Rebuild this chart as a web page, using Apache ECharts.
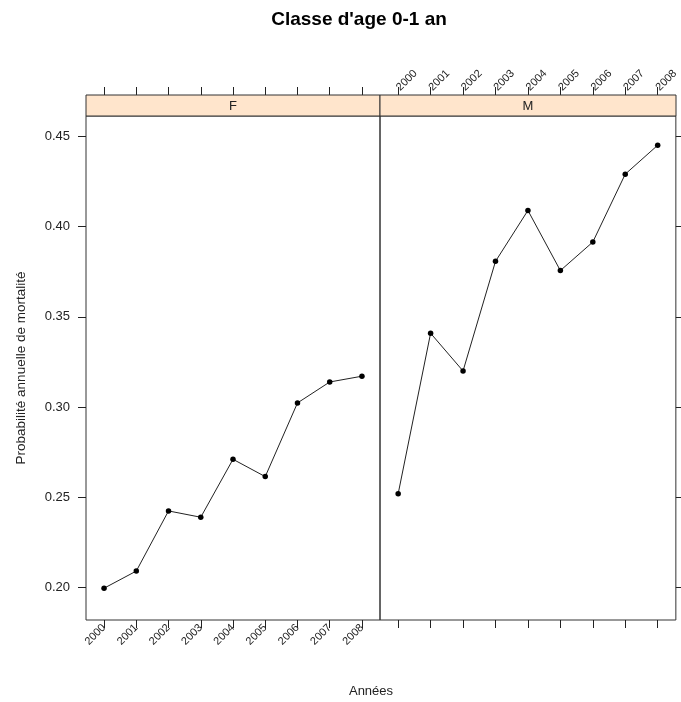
<!DOCTYPE html>
<html>
<head>
<meta charset="utf-8">
<script src="https://cdn.jsdelivr.net/npm/echarts@6/dist/echarts.min.js"></script>
<style>
  html,body{margin:0;padding:0;background:#fff;}
  #chart{width:681px;height:702px;}
</style>
</head>
<body>
<div id="chart"></div>
<script>
// data
const years = [2000, 2001, 2002, 2003, 2004, 2005, 2006, 2007, 2008];
const valuesF = [0.1997, 0.2092, 0.2425, 0.2390, 0.2711, 0.2615, 0.3023, 0.3139, 0.3171];
const valuesM = [0.2520, 0.3409, 0.3200, 0.3807, 0.4089, 0.3756, 0.3914, 0.4290, 0.4450];
const yTicks = [0.20, 0.25, 0.30, 0.35, 0.40, 0.45];
const panels = ['F', 'M'];

const chart = echarts.init(document.getElementById('chart'));
const font = 'Liberation Sans, Arial, sans-serif';
const ink = '#222';

// lattice-like padding around the data range
const xMin = 1999.44, xMax = 2008.56;
const yMin = 0.1821, yMax = 0.4612;

const gridBox = [
  {left: 86, right: 301, top: 116, bottom: 82},
  {left: 380, right: 5, top: 116, bottom: 82}
];

function xAxis(gi, pos, labels) {
  return {
    type: 'value', gridIndex: gi, position: pos, min: xMin, max: xMax,
    offset: pos === 'top' ? 21 : 0,
    axisLine: {show: false},
    splitLine: {show: false},
    axisTick: {show: true, inside: false, length: 8, customValues: years,
      lineStyle: {color: ink, width: 1}},
    axisLabel: {show: labels, customValues: years, rotate: pos === 'top' ? -45 : 45, margin: 6,
      fontFamily: font, fontSize: 11, color: ink,
      formatter: v => String(Math.round(v))}
  };
}

function yAxis(gi, pos, labels) {
  return {
    type: 'value', gridIndex: gi, position: pos, min: yMin, max: yMax,
    axisLine: {show: false},
    splitLine: {show: false},
    axisTick: {show: true, length: 8, customValues: yTicks,
      lineStyle: {color: ink, width: 1}},
    axisLabel: {show: labels, customValues: yTicks, margin: 16,
      fontFamily: font, fontSize: 13, color: ink,
      formatter: v => v.toFixed(2)},
    name: labels ? 'Probabilité annuelle de mortalité' : '',
    nameLocation: 'middle', nameGap: 58,
    nameTextStyle: {fontFamily: font, fontSize: 13.5, color: ink}
  };
}

const strips = [];
gridBox.forEach((g, i) => {
  const x0 = g.left, x1 = 681 - g.right;
  strips.push({
    type: 'rect', shape: {x: x0, y: 95, width: x1 - x0, height: 21},
    style: {fill: '#ffe5cc', stroke: '#333', lineWidth: 1}, z: 10
  });
  strips.push({
    type: 'text', x: (x0 + x1) / 2, y: 106, z: 11,
    style: {text: panels[i], fontFamily: font, fontSize: 13, fill: ink,
      align: 'center', verticalAlign: 'middle'}
  });
});

const option = {
  backgroundColor: '#fff',
  animation: false,
  title: {
    text: "Classe d'age 0-1 an", left: 354, top: 5, textAlign: 'center',
    textStyle: {fontFamily: font, fontSize: 19, fontWeight: 'bold', color: '#000'}
  },
  grid: gridBox.map(g => Object.assign({show: true, borderColor: '#333', borderWidth: 1,
    backgroundColor: 'transparent'}, g)),
  xAxis: [
    xAxis(0, 'bottom', true), xAxis(0, 'top', false),
    xAxis(1, 'bottom', false), xAxis(1, 'top', true)
  ],
  yAxis: [
    yAxis(0, 'left', true), yAxis(1, 'right', false)
  ],
  series: [valuesF, valuesM].map((vals, i) => ({
    type: 'line', xAxisIndex: i * 2, yAxisIndex: i,
    data: years.map((y, k) => [y, vals[k]]),
    symbol: 'circle', symbolSize: 5.5,
    lineStyle: {color: ink, width: 1},
    itemStyle: {color: '#000'}
  })),
  graphic: strips.concat([{
    type: 'text', x: 371, y: 691,
    style: {text: 'Années', fontFamily: font, fontSize: 13, fill: ink,
      align: 'center', verticalAlign: 'middle'}
  }])
};

chart.setOption(option);
</script>
</body>
</html>
